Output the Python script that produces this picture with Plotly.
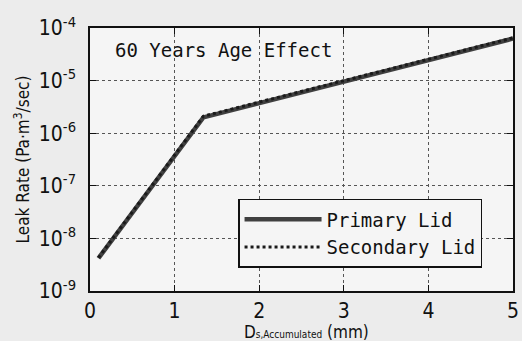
import plotly.graph_objects as go

# Data
x_primary = [0.1, 1.34, 5.0]
y_primary = [4.2e-9, 2.0e-6, 6.3e-5]
x_secondary = [0.1, 1.34, 5.0]
y_secondary = [4.3e-9, 2.1e-6, 6.5e-5]
x_ticks = [0, 1, 2, 3, 4, 5]
y_ticks = [1e-9, 1e-8, 1e-7, 1e-6, 1e-5, 1e-4]
y_tick_labels = ["10<sup>-9</sup>", "10<sup>-8</sup>", "10<sup>-7</sup>",
                 "10<sup>-6</sup>", "10<sup>-5</sup>", "10<sup>-4</sup>"]

mono = "DejaVu Sans Mono, Liberation Mono, monospace"
narrow = "Liberation Sans Narrow, DejaVu Sans Condensed, Liberation Sans, Arial, sans-serif"

fig = go.Figure()
fig.add_trace(go.Scatter(x=x_primary, y=y_primary, mode="lines", name="Primary Lid",
                         line=dict(color="#404040", width=4.5)))
fig.add_trace(go.Scatter(x=x_secondary, y=y_secondary, mode="lines", name="Secondary Lid",
                         line=dict(color="#1a1a1a", width=3, dash="dot")))

fig.add_annotation(text="60 Years Age Effect", xref="paper", yref="paper",
                   x=0.054, y=0.916, xanchor="left", yanchor="middle", showarrow=False,
                   font=dict(family=mono, size=19, color="#111"))
fig.add_annotation(text="D<span style='font-size:10px'>s,Accumulated</span> (mm)",
                   xref="paper", yref="paper",
                   x=0.513, y=-0.157, xanchor="center", yanchor="middle", showarrow=False,
                   font=dict(family=narrow, size=17, color="#111"))

axis_common = dict(showline=True, linecolor="#111", linewidth=1.5, mirror="ticks",
                   ticks="inside", ticklen=6, tickcolor="#111",
                   showgrid=True, gridcolor="#555", gridwidth=1, griddash="dot",
                   zeroline=False, automargin=False)

fig.update_xaxes(range=[0, 5], tickvals=x_ticks, ticktext=[str(v) for v in x_ticks],
                 tickfont=dict(family=narrow, size=21, color="#111"),
                 **axis_common)
fig.update_yaxes(type="log", range=[-9, -4], tickvals=y_ticks, ticktext=y_tick_labels,
                 tickfont=dict(family=narrow, size=21, color="#111"),
                 ticklabelstandoff=8,
                 title=dict(text="Leak Rate (Pa·m<sup>3</sup>/sec)",
                            font=dict(family=narrow, size=17, color="#111"), standoff=5),
                 **axis_common)

fig.update_layout(
    width=522, height=341,
    margin=dict(l=90, r=9, t=28, b=50),
    paper_bgcolor="#ececec", plot_bgcolor="#f5f5f5",
    showlegend=True,
    legend=dict(x=0.35, y=0.35, xanchor="left", yanchor="top",
                bgcolor="#f5f5f5", bordercolor="#111", borderwidth=1.5,
                font=dict(family=mono, size=19, color="#111"),
                itemwidth=77, tracegroupgap=0),
)

fig.write_html("out.html", config={"displayModeBar": False},
               post_script="document.body.style.margin='0';document.body.style.overflow='hidden';")
